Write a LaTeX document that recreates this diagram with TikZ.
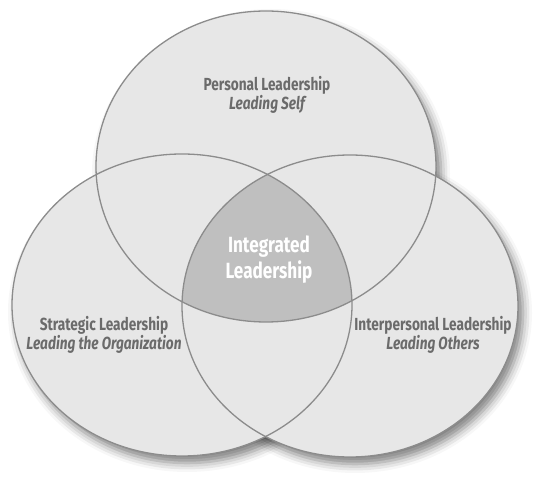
\documentclass[tikz,border=0pt]{standalone}
\usepackage{fontspec}
\setmainfont{Fira Sans}[FakeStretch=0.78]
\usepackage{tikz}
\usetikzlibrary{shadows.blur}
\definecolor{ringfill}{gray}{0.905}
\definecolor{corefill}{gray}{0.75}
\definecolor{ringline}{gray}{0.55}
\definecolor{areagray}{gray}{0.42}
\tikzset{
ring/.style={
  fill=ringfill,
  blur shadow={shadow xshift=5pt, shadow yshift=-7pt,
    shadow blur radius=9pt, shadow opacity=50}
},
rim/.style={draw=ringline, line width=1.3pt},
areatext/.style={
  text=areagray, font=\fontsize{17.5}{19}\selectfont\bfseries,
  align=center, inner sep=0pt
},
coretext/.style={
  text=white, font=\fontsize{22}{26}\selectfont\bfseries,
  align=center, inner sep=0pt
},
}

\begin{document}
\begin{tikzpicture}[x=1pt,y=1pt]
\useasboundingbox (0,0) rectangle (554,487);
\coordinate (self) at (266,320.5);
\coordinate (strat) at (182,182);
\coordinate (inter) at (350,181);
% the filled rings
\path[ring] (self) ellipse (170 and 155.5);
\path[ring] (strat) ellipse (170 and 151);
\path[ring] (inter) ellipse (168 and 151);
\fill[ringfill] (self) ellipse (170 and 155.5);
\fill[ringfill] (strat) ellipse (170 and 151);
% the common part
\begin{scope}
  \clip (self) ellipse (170 and 155.5);
  \clip (strat) ellipse (170 and 151);
  \fill[corefill] (inter) ellipse (168 and 151);
\end{scope}
% the outlines
\draw[rim] (self) ellipse (170 and 155.5);
\draw[rim] (strat) ellipse (170 and 151);
\draw[rim] (inter) ellipse (168 and 151);
% the texts
\node[areatext] (selftext) at (267,392) {Personal Leadership\\\itshape Leading Self};
\node[coretext] (coretxt) at (269,227) {Integrated\\Leadership};
\node[areatext] (strattext) at (104,152) {Strategic Leadership\\\itshape Leading the Organization};
\node[areatext] (intertext) at (433,152) {Interpersonal Leadership\\\itshape Leading Others};
\end{tikzpicture}
\end{document}
